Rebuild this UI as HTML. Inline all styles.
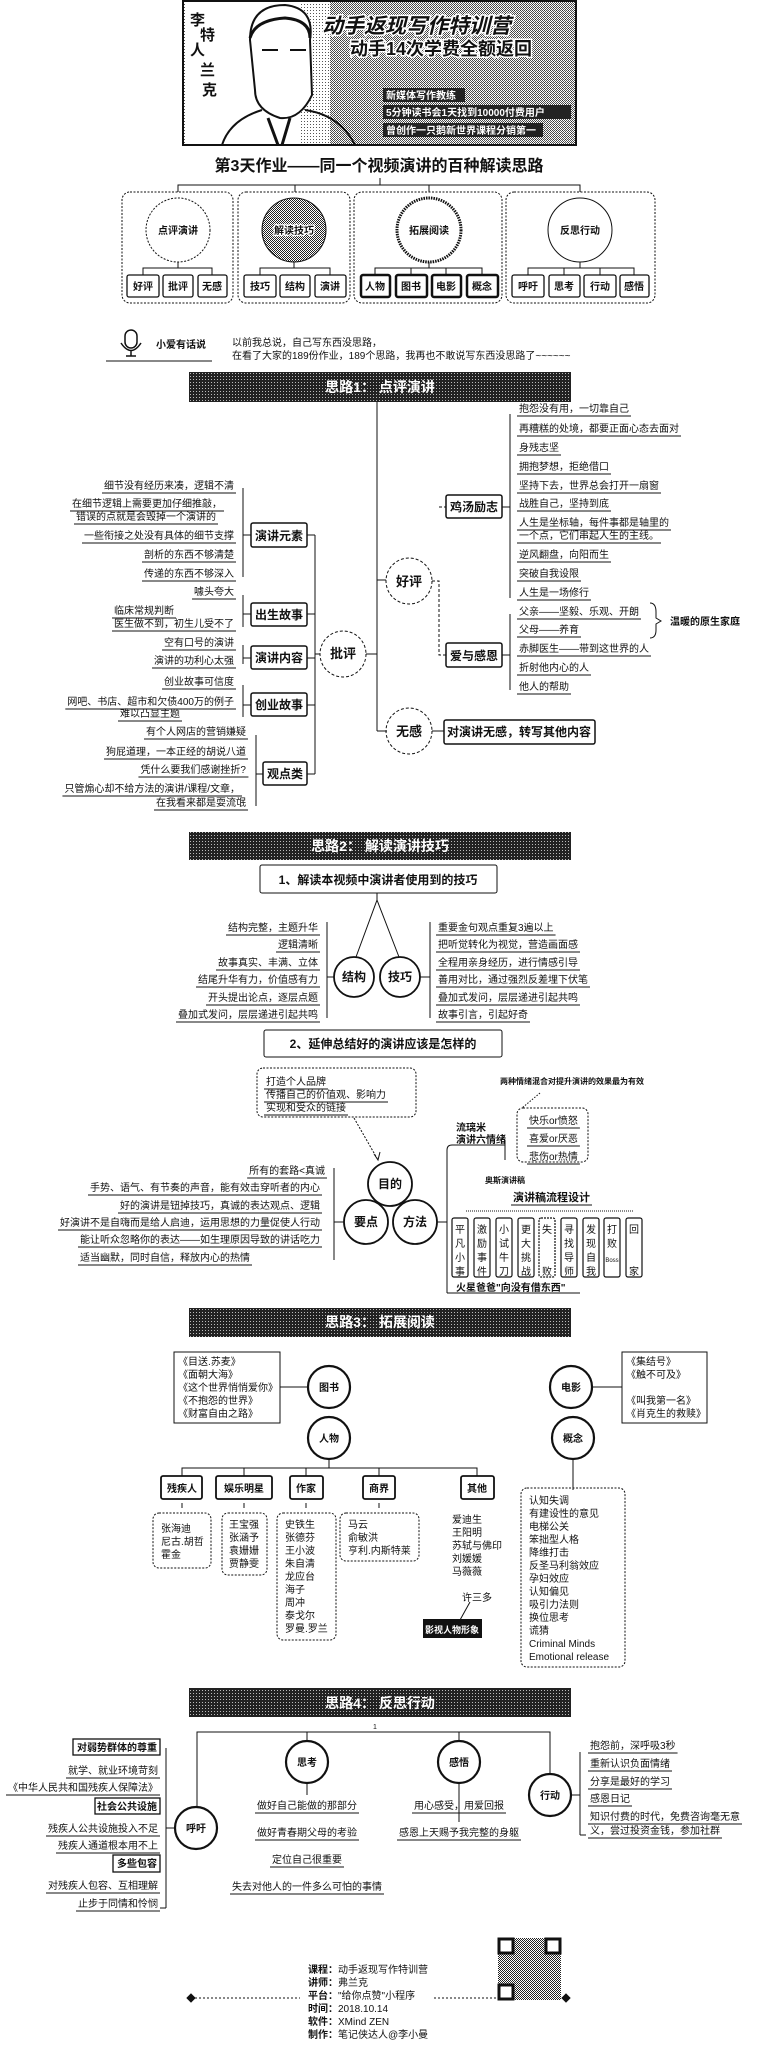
<!DOCTYPE html>
<html><head><meta charset="utf-8">
<style>
html,body{margin:0;padding:0;background:#fff;}
svg{display:block;font-family:"Liberation Sans","Noto Sans CJK SC",sans-serif;}
text{font-size:10px;fill:#111;}
.b{font-weight:bold;}
.m{text-anchor:middle;}
.e{text-anchor:end;}
.w{fill:#fff;font-weight:bold;}
</style></head><body>
<svg id="s" width="762" height="2054" viewBox="0 0 762 2054" xmlns="http://www.w3.org/2000/svg">
<defs>
<pattern id="dots" width="3" height="3" patternUnits="userSpaceOnUse"><rect width="3" height="3" fill="#222"/><rect x="1" y="1" width="1" height="1" fill="#bbb"/></pattern>
<pattern id="lt" width="3" height="3" patternUnits="userSpaceOnUse"><rect width="3" height="3" fill="#fff"/><rect x="1" y="1" width="1" height="1" fill="#555"/></pattern>
<pattern id="md" width="2" height="2" patternUnits="userSpaceOnUse"><rect width="2" height="2" fill="#fff"/><rect width="1" height="1" fill="#222"/><rect x="1" y="1" width="1" height="1" fill="#222"/></pattern>
</defs>
<g fill="none" stroke="#111" stroke-width="1">
<!-- banner -->
<rect x="183" y="1" width="393" height="144" fill="url(#lt)" stroke="#111" stroke-width="2"/>
<rect x="330" y="2" width="245" height="142" fill="url(#md)" stroke="none" opacity="0.8"/>
<rect x="185" y="2" width="115" height="142" fill="#fff" stroke="none"/>
<path d="M250 40 Q250 5 285 5 Q315 8 310 40 L312 95 Q300 120 280 118 Q255 110 255 90 Z" fill="#fff" stroke="#111" stroke-width="2"/>
<path d="M250 38 Q255 20 285 18 Q310 20 310 38" stroke-width="3"/>
<path d="M262 50 h16 M290 50 h16" stroke-width="2"/>
<path d="M262 110 Q230 120 222 145 M305 110 Q340 115 355 145" stroke-width="2"/>
<path d="M268 118 L278 145 M290 118 L282 145" stroke-width="3"/>
</g>
<text x="190" y="25" class="b" style="font-size:15px">李</text><text x="200" y="40" class="b" style="font-size:15px">特</text>
<text x="190" y="55" class="b" style="font-size:15px">人</text><text x="200" y="75" class="b" style="font-size:15px">兰</text><text x="202" y="95" class="b" style="font-size:15px">克</text>
<text x="322" y="33" class="b" style="font-size:21px;font-style:italic;stroke:#fff;stroke-width:3;paint-order:stroke">动手返现写作特训营</text>
<text x="350" y="55" class="b" style="font-size:18px;stroke:#fff;stroke-width:3;paint-order:stroke">动手14次学费全额返回</text>
<rect x="383" y="88" width="82" height="14" fill="#222"/><text x="386" y="99" class="w" style="font-size:10px">新媒体写作教练</text>
<rect x="383" y="105" width="188" height="14" fill="#222"/><text x="386" y="116" class="w" style="font-size:10px">5分钟读书会1天找到10000付费用户</text>
<rect x="383" y="123" width="160" height="14" fill="#222"/><text x="386" y="134" class="w" style="font-size:10px">曾创作一只鹅新世界课程分销第一</text>

<text x="379" y="171" class="b m" style="font-size:16px">第3天作业——同一个视频演讲的百种解读思路</text>

<g fill="none" stroke="#111" stroke-width="1">
<path d="M380 178 V185 M178 192 V185 H580 V192 M295 185 V192 M429 185 V192"/>
<g stroke-dasharray="2,1.5">
<rect x="122" y="192" width="111" height="111" rx="8"/>
<rect x="238" y="192" width="112" height="111" rx="8"/>
<rect x="354" y="192" width="148" height="111" rx="8"/>
<rect x="506" y="192" width="149" height="111" rx="8"/>
<circle cx="178" cy="230" r="32"/>
</g>
<circle cx="294" cy="230" r="32" fill="url(#md)"/>
<circle cx="429" cy="230" r="32" stroke-width="3" stroke-dasharray="1.5,1"/>
<circle cx="580" cy="230" r="32"/>
<path d="M178 262 V268 M143 275 V268 H212 V275"/>
<path d="M294 262 V268 M260 275 V268 H330 V275"/>
<path d="M429 262 V268 M375 275 V268 H482 V275 M411 268 V275 M446 268 V275"/>
<path d="M580 262 V268 M528 275 V268 H634 V275 M564 268 V275 M600 268 V275"/>
<g stroke-width="1.3">
<rect x="127" y="275" width="32" height="22" rx="2"/><rect x="163" y="275" width="30" height="22" rx="2"/><rect x="198" y="275" width="29" height="22" rx="2"/>
<rect x="244" y="275" width="32" height="22" rx="2"/><rect x="280" y="275" width="30" height="22" rx="2"/><rect x="315" y="275" width="31" height="22" rx="2"/>
</g>
<g stroke-width="2.5">
<rect x="361" y="275" width="29" height="22" rx="2"/><rect x="396" y="275" width="31" height="22" rx="2"/><rect x="432" y="275" width="29" height="22" rx="2"/><rect x="467" y="275" width="31" height="22" rx="2"/>
</g>
<g stroke-width="1.3">
<rect x="512" y="275" width="32" height="22" rx="2"/><rect x="549" y="275" width="31" height="22" rx="2"/><rect x="584" y="275" width="32" height="22" rx="2"/><rect x="620" y="275" width="29" height="22" rx="2"/>
</g>
</g>
<g class="b" style="font-size:11px">
<text x="178" y="234" class="m b">点评演讲</text><text x="294" y="234" class="m b" style="stroke:#fff;stroke-width:2.5;paint-order:stroke">解读技巧</text>
<text x="429" y="234" class="m b">拓展阅读</text><text x="580" y="234" class="m b">反思行动</text>
<text x="143" y="290" class="m b">好评</text><text x="178" y="290" class="m b">批评</text><text x="212" y="290" class="m b">无感</text>
<text x="260" y="290" class="m b">技巧</text><text x="295" y="290" class="m b">结构</text><text x="330" y="290" class="m b">演讲</text>
<text x="375" y="290" class="m b">人物</text><text x="411" y="290" class="m b">图书</text><text x="446" y="290" class="m b">电影</text><text x="482" y="290" class="m b">概念</text>
<text x="528" y="290" class="m b">呼吁</text><text x="564" y="290" class="m b">思考</text><text x="600" y="290" class="m b">行动</text><text x="634" y="290" class="m b">感悟</text>
</g>

<!-- 小爱 -->
<g fill="none" stroke="#111" stroke-width="1.5">
<rect x="125" y="330" width="12" height="18" rx="6"/><path d="M121 343 Q131 358 141 343 M131 351 V356 M126 356 H136"/><path d="M106 361 H212" stroke-width="1"/>
</g>
<text x="156" y="348" class="b" style="font-size:10px">小爱有话说</text>
<text x="232" y="346">以前我总说，自己写东西没思路，</text>
<text x="232" y="359">在看了大家的189份作业，189个思路，我再也不敢说写东西没思路了~~~~~~</text>

<!-- headers -->
<rect x="189" y="372" width="382" height="30" fill="url(#dots)"/><text x="380" y="392" class="w m" style="font-size:14px">思路1：  点评演讲</text>
<rect x="189" y="832" width="382" height="28" fill="url(#dots)"/><text x="380" y="851" class="w m" style="font-size:14px">思路2：  解读演讲技巧</text>
<rect x="189" y="1308" width="382" height="29" fill="url(#dots)"/><text x="380" y="1327" class="w m" style="font-size:14px">思路3：  拓展阅读</text>
<rect x="189" y="1688" width="382" height="29" fill="url(#dots)"/><text x="380" y="1708" class="w m" style="font-size:14px">思路4：  反思行动</text>

<!-- section 1 -->
<g fill="none" stroke="#111" stroke-width="1">
<path d="M377 402 V731 M377 580 H386 M377 731 H387 M366 654 H377"/>
<g stroke-dasharray="3,2"><circle cx="343" cy="654" r="23"/><circle cx="409" cy="581" r="23"/><circle cx="409" cy="731" r="23"/>
<path d="M432 581 H439 V655 H446 M439 507 H446"/></g>
<path d="M432 731 H444"/>
<g stroke-width="1.5"><rect x="446" y="495" width="56" height="23" rx="2"/><rect x="446" y="643" width="56" height="24" rx="2"/><rect x="444" y="720" width="151" height="24" rx="2"/>
<rect x="251" y="523" width="56" height="24" rx="2"/><rect x="251" y="603" width="56" height="23" rx="2"/><rect x="251" y="646" width="56" height="23" rx="2"/><rect x="251" y="693" width="56" height="23" rx="2"/><rect x="263" y="762" width="44" height="23" rx="2"/></g>
<path d="M502 507 H510 M510 414 V598 M502 655 H510 M510 614 V690"/>
<path d="M320 654 H315 M315 535 V774 M307 535 H315 M307 614 H315 M307 658 H315 M307 705 H315 M307 774 H315"/>
<path d="M243 488 V577 M251 535 H243 M243 595 V627 M251 614 H243 M243 645 V664 M251 658 H243 M243 685 V717 M251 705 H243 M256 735 V806 M263 774 H256"/>
<path d="M650 603 Q656 603 656 612 V618 L661 621 L656 624 V630 Q656 638 650 638"/>
</g>
<text x="343" y="658" class="m b" style="font-size:13px">批评</text>
<text x="409" y="586" class="m b" style="font-size:13px">好评</text>
<text x="409" y="736" class="m b" style="font-size:13px">无感</text>
<text x="474" y="511" class="m b" style="font-size:12px">鸡汤励志</text>
<text x="474" y="660" class="m b" style="font-size:12px">爱与感恩</text>
<text x="519" y="736" class="m b" style="font-size:12px">对演讲无感，转写其他内容</text>
<text x="279" y="540" class="m b" style="font-size:12px">演讲元素</text>
<text x="279" y="619" class="m b" style="font-size:12px">出生故事</text>
<text x="279" y="662" class="m b" style="font-size:12px">演讲内容</text>
<text x="279" y="709" class="m b" style="font-size:12px">创业故事</text>
<text x="285" y="778" class="m b" style="font-size:12px">观点类</text>
<text x="670" y="625" class="b" style="font-size:10px">温暖的原生家庭</text>
<g class="ul">
<text x="519" y="412">抱怨没有用，一切靠自己</text>
<text x="519" y="432">再糟糕的处境，都要正面心态去面对</text>
<text x="519" y="451">身残志坚</text>
<text x="519" y="470">拥抱梦想，拒绝借口</text>
<text x="519" y="489">坚持下去，世界总会打开一扇窗</text>
<text x="519" y="507">战胜自己，坚持到底</text>
<text x="519" y="526">人生是坐标轴，每件事都是轴里的</text>
<text x="519" y="539">一个点，它们串起人生的主线。</text>
<text x="519" y="558">逆风翻盘，向阳而生</text>
<text x="519" y="577">突破自我设限</text>
<text x="519" y="596">人生是一场修行</text>
<text x="519" y="615">父亲——坚毅、乐观、开朗</text>
<text x="519" y="633">父母——养育</text>
<text x="519" y="652">赤脚医生——带到这世界的人</text>
<text x="519" y="671">折射他内心的人</text>
<text x="519" y="690">他人的帮助</text>
<text x="234" y="489" class="e">细节没有经历来凑，逻辑不清</text>
<text x="222" y="507" class="e">在细节逻辑上需要更加仔细推敲，</text>
<text x="216" y="520" class="e">错误的点就是会毁掉一个演讲的</text>
<text x="234" y="539" class="e">一些衔接之处没有具体的细节支撑</text>
<text x="234" y="558" class="e">剖析的东西不够清楚</text>
<text x="234" y="577" class="e">传递的东西不够深入</text>
<text x="234" y="595" class="e">噱头夸大</text>
<text x="114" y="614">临床常规判断</text>
<text x="234" y="627" class="e">医生做不到，初生儿受不了</text>
<text x="234" y="646" class="e">空有口号的演讲</text>
<text x="234" y="664" class="e">演讲的功利心太强</text>
<text x="234" y="685" class="e">创业故事可信度</text>
<text x="234" y="705" class="e">网吧、书店、超市和欠债400万的例子</text>
<text x="180" y="717" class="e">难以凸显主题</text>
<text x="246" y="735" class="e">有个人网店的营销嫌疑</text>
<text x="246" y="755" class="e">狗屁道理，一本正经的胡说八道</text>
<text x="246" y="773" class="e">凭什么要我们感谢挫折?</text>
<text x="240" y="792" class="e">只管煽心却不给方法的演讲/课程/文章，</text>
<text x="246" y="806" class="e">在我看来都是耍流氓</text>
</g>

<!-- section 2 -->
<g fill="none" stroke="#111" stroke-width="1">
<rect x="260" y="865" width="237" height="28" rx="2"/>
<rect x="264" y="1030" width="238" height="27" rx="2"/>
<path d="M377 893 V900 L356 957 M377 900 L399 957"/>
<g stroke-width="1.8"><circle cx="354" cy="977" r="20"/><circle cx="400" cy="977" r="20"/>
<circle cx="390" cy="1184" r="22"/><circle cx="366" cy="1222" r="22"/><circle cx="415" cy="1222" r="22"/></g>
<path d="M334 977 H327 M327 922 V1018 M420 977 H430 M430 922 V1018"/>
<rect x="257" y="1068" width="159" height="49" rx="6" stroke-dasharray="2,1.5"/>
<path d="M354 1118 L378 1160" stroke-dasharray="2,1.5"/><path d="M374 1154 L378 1160 L380 1152"/>
<path d="M344 1222 H334 M334 1168 V1260 M437 1222 H447 M447 1293 V1150 Q447 1145 452 1145 H505"/>
<path d="M505 1140 V1160"/>
<rect x="517" y="1108" width="71" height="54" rx="6" stroke-dasharray="2,1.5"/>
<path d="M540 1093 L522 1108" stroke-dasharray="1.5,1.5"/>
<path d="M466 1211 H634" stroke-dasharray="1,1"/>
<path d="M447 1293 H580"/>
</g>
<g fill="none" stroke="#111" stroke-width="1.2">
<rect x="452" y="1218" width="16" height="59" rx="2"/><rect x="474" y="1218" width="16" height="59" rx="2"/><rect x="496" y="1218" width="16" height="59" rx="2"/>
<rect x="518" y="1218" width="16" height="59" rx="2"/><rect x="539" y="1218" width="16" height="59" rx="2" stroke-dasharray="2,1"/><rect x="561" y="1218" width="16" height="59" rx="2"/>
<rect x="583" y="1218" width="16" height="59" rx="2"/><rect x="604" y="1218" width="16" height="59" rx="2"/><rect x="626" y="1218" width="16" height="59" rx="2"/>
</g>
<text x="378" y="884" class="m b" style="font-size:12px">1、解读本视频中演讲者使用到的技巧</text>
<text x="383" y="1048" class="m b" style="font-size:12px">2、延伸总结好的演讲应该是怎样的</text>
<text x="354" y="981" class="m b" style="font-size:12px">结构</text><text x="400" y="981" class="m b" style="font-size:12px">技巧</text>
<text x="390" y="1188" class="m b" style="font-size:12px">目的</text><text x="366" y="1226" class="m b" style="font-size:12px">要点</text><text x="415" y="1226" class="m b" style="font-size:12px">方法</text>
<g class="ul">
<text x="318" y="931" class="e">结构完整，主题升华</text>
<text x="318" y="948" class="e">逻辑清晰</text>
<text x="318" y="966" class="e">故事真实、丰满、立体</text>
<text x="318" y="983" class="e">结尾升华有力，价值感有力</text>
<text x="318" y="1001" class="e">开头提出论点，逐层点题</text>
<text x="318" y="1018" class="e">叠加式发问，层层递进引起共鸣</text>
<text x="438" y="931">重要金句观点重复3遍以上</text>
<text x="438" y="948">把听觉转化为视觉，营造画面感</text>
<text x="438" y="966">全程用亲身经历，进行情感引导</text>
<text x="438" y="983">善用对比，通过强烈反差埋下伏笔</text>
<text x="438" y="1001">叠加式发问，层层递进引起共鸣</text>
<text x="438" y="1018">故事引言，引起好奇</text>
<text x="266" y="1085">打造个人品牌</text>
<text x="266" y="1098">传播自己的价值观、影响力</text>
<text x="266" y="1111">实现和受众的链接</text>
<text x="325" y="1174" class="e">所有的套路&lt;真诚</text>
<text x="320" y="1191" class="e">手势、语气、有节奏的声音，能有效击穿听者的内心</text>
<text x="320" y="1209" class="e">好的演讲是钮掉技巧，真诚的表达观点、逻辑</text>
<text x="320" y="1226" class="e">好演讲不是自嗨而是给人启迪，运用思想的力量促使人行动</text>
<text x="320" y="1243" class="e">能让听众忽略你的表达——如生理原因导致的讲话吃力</text>
<text x="80" y="1261">适当幽默，同时自信，释放内心的热情</text>
<text x="529" y="1124">快乐or愤怒</text>
<text x="529" y="1142">喜爱or厌恶</text>
<text x="529" y="1160">悲伤or热情</text>
<text x="513" y="1201" class="b" style="font-size:11px">演讲稿流程设计</text>
</g>
<text x="456" y="1131" class="b">流璃米</text><text x="456" y="1143" class="b">演讲六情绪</text>
<text x="500" y="1084" class="b" style="font-size:8px">两种情绪混合对提升演讲的效果最为有效</text>
<text x="485" y="1183" class="b" style="font-size:8px">奥斯演讲稿</text>
<g style="font-size:10px">
<text x="460" y="1233" class="m">平</text><text x="460" y="1247" class="m">凡</text><text x="460" y="1261" class="m">小</text><text x="460" y="1275" class="m">事</text>
<text x="482" y="1233" class="m">激</text><text x="482" y="1247" class="m">励</text><text x="482" y="1261" class="m">事</text><text x="482" y="1275" class="m">件</text>
<text x="504" y="1233" class="m">小</text><text x="504" y="1247" class="m">试</text><text x="504" y="1261" class="m">牛</text><text x="504" y="1275" class="m">刀</text>
<text x="526" y="1233" class="m">更</text><text x="526" y="1247" class="m">大</text><text x="526" y="1261" class="m">挑</text><text x="526" y="1275" class="m">战</text>
<text x="547" y="1233" class="m">失</text><text x="547" y="1275" class="m">败</text>
<text x="569" y="1233" class="m">寻</text><text x="569" y="1247" class="m">找</text><text x="569" y="1261" class="m">导</text><text x="569" y="1275" class="m">师</text>
<text x="591" y="1233" class="m">发</text><text x="591" y="1247" class="m">现</text><text x="591" y="1261" class="m">自</text><text x="591" y="1275" class="m">我</text>
<text x="612" y="1233" class="m">打</text><text x="612" y="1247" class="m">败</text><text x="612" y="1262" class="m" style="font-size:6px">Boss</text>
<text x="634" y="1233" class="m">回</text><text x="634" y="1275" class="m">家</text>
</g>
<text x="456" y="1291" class="b" style="font-size:10px">火星爸爸"向没有借东西"</text>

<!-- section 3 -->
<g fill="none" stroke="#111" stroke-width="1">
<rect x="174" y="1352" width="106" height="71"/><rect x="622" y="1352" width="85" height="71"/>
<path d="M280 1387 H308 M592 1387 H622 M573 1460 V1490"/>
<g stroke-width="2.2"><circle cx="329" cy="1387" r="21"/><circle cx="329" cy="1438" r="21"/><circle cx="571" cy="1387" r="21"/><circle cx="573" cy="1438" r="21"/></g>
<path d="M329 1459 V1468 M182 1476 V1468 H477 V1476 M244 1468 V1476 M306 1468 V1476 M379 1468 V1476"/>
<g stroke-width="1.8"><rect x="161" y="1476" width="41" height="23" rx="2"/><rect x="216" y="1476" width="56" height="23" rx="2"/><rect x="290" y="1476" width="33" height="23" rx="2"/><rect x="363" y="1476" width="32" height="23" rx="2"/><rect x="461" y="1476" width="33" height="23" rx="2"/></g>
<path d="M182 1503 V1508 M244 1503 V1508 M306 1503 V1508 M379 1503 V1508"/>
<g stroke-dasharray="2,1.5"><rect x="153" y="1513" width="58" height="55" rx="6"/><rect x="222" y="1513" width="45" height="62" rx="6"/><rect x="277" y="1513" width="59" height="127" rx="6"/><rect x="340" y="1513" width="79" height="48" rx="6"/><rect x="521" y="1488" width="104" height="179" rx="6"/></g>
<path d="M470 1602 L460 1620"/>
</g>
<rect x="423" y="1619" width="59" height="19" fill="#111"/>
<text x="452" y="1633" class="w m" style="font-size:9px">影视人物形象</text>
<g style="font-size:10px">
<text x="329" y="1391" class="m b">图书</text><text x="329" y="1442" class="m b">人物</text><text x="571" y="1391" class="m b">电影</text><text x="573" y="1442" class="m b">概念</text>
<text x="178" y="1365">《目送.苏麦》</text><text x="178" y="1378">《面朝大海》</text><text x="178" y="1391">《这个世界悄悄爱你》</text><text x="178" y="1404">《不抱怨的世界》</text><text x="178" y="1417">《财富自由之路》</text>
<text x="626" y="1365">《集结号》</text><text x="626" y="1378">《触不可及》</text><text x="626" y="1404">《叫我第一名》</text><text x="626" y="1417">《肖克生的救赎》</text>
</g>
<g class="b" style="font-size:12px"><text x="182" y="1492" class="m b">残疾人</text><text x="244" y="1492" class="m b">娱乐明星</text><text x="306" y="1492" class="m b">作家</text><text x="379" y="1492" class="m b">商界</text><text x="477" y="1492" class="m b">其他</text></g>
<text x="161" y="1532">张海迪</text><text x="161" y="1545">尼古.胡哲</text><text x="161" y="1558">霍金</text>
<text x="229" y="1528">王宝强</text><text x="229" y="1541">张涵予</text><text x="229" y="1554">袁姗姗</text><text x="229" y="1567">贾静雯</text>
<text x="285" y="1528">史铁生</text><text x="285" y="1541">张德芬</text><text x="285" y="1554">王小波</text><text x="285" y="1567">朱自清</text><text x="285" y="1580">龙应台</text><text x="285" y="1593">海子</text><text x="285" y="1606">周冲</text><text x="285" y="1619">泰戈尔</text><text x="285" y="1632">罗曼.罗兰</text>
<text x="348" y="1528">马云</text><text x="348" y="1541">俞敏洪</text><text x="348" y="1554">亨利.内斯特莱</text>
<text x="452" y="1523">爱迪生</text><text x="452" y="1536">王阳明</text><text x="452" y="1549">苏轼与佛印</text><text x="452" y="1562">刘媛媛</text><text x="452" y="1575">马薇薇</text>
<text x="462" y="1601">许三多</text>
<text x="529" y="1504">认知失调</text><text x="529" y="1517">有建设性的意见</text><text x="529" y="1530">电梯公关</text><text x="529" y="1543">笨拙型人格</text><text x="529" y="1556">降维打击</text><text x="529" y="1569">反圣马利翁效应</text><text x="529" y="1582">孕妇效应</text><text x="529" y="1595">认知偏见</text><text x="529" y="1608">吸引力法则</text><text x="529" y="1621">换位思考</text><text x="529" y="1634">谎猜</text><text x="529" y="1647">Criminal Minds</text><text x="529" y="1660">Emotional release</text>

<!-- section 4 -->
<g fill="none" stroke="#111" stroke-width="1">
<path d="M197 1807 V1732 H550 V1774 M307 1732 V1741 M459 1732 V1741"/>
<g stroke-width="2.2"><circle cx="196" cy="1828" r="21"/><circle cx="307" cy="1762" r="21"/><circle cx="459" cy="1762" r="21"/><circle cx="550" cy="1795" r="21"/></g>
<path d="M175 1828 H166 M166 1748 V1908 M160 1908 H166"/>
<g stroke-width="1.3"><rect x="73" y="1739" width="87" height="16"/><rect x="95" y="1798" width="65" height="16"/><rect x="113" y="1855" width="47" height="17"/></g>
<path d="M307 1783 V1795 M459 1783 V1822"/>
<path d="M571 1795 H580 M580 1752 V1835 M580 1835 H586"/>
</g>
<text x="373" y="1729" style="font-size:7px">1</text>
<text x="196" y="1832" class="m b">呼吁</text><text x="307" y="1766" class="m b">思考</text><text x="459" y="1766" class="m b">感悟</text><text x="550" y="1799" class="m b">行动</text>
<text x="157" y="1751" class="e b">对弱势群体的尊重</text>
<text x="157" y="1810" class="e b">社会公共设施</text>
<text x="157" y="1867" class="e b">多些包容</text>
<g class="ul">
<text x="158" y="1774" class="e">就学、就业环境苛刻</text>
<text x="158" y="1791" class="e">《中华人民共和国残疾人保障法》</text>
<text x="158" y="1832" class="e">残疾人公共设施投入不足</text>
<text x="158" y="1849" class="e">残疾人通道根本用不上</text>
<text x="158" y="1889" class="e">对残疾人包容、互相理解</text>
<text x="158" y="1907" class="e">止步于同情和怜悯</text>
<text x="307" y="1809" class="m">做好自己能做的那部分</text>
<text x="307" y="1836" class="m">做好青春期父母的考验</text>
<text x="307" y="1863" class="m">定位自己很重要</text>
<text x="307" y="1890" class="m">失去对他人的一件多么可怕的事情</text>
<text x="459" y="1809" class="m">用心感受，用爱回报</text>
<text x="459" y="1836" class="m">感恩上天赐予我完整的身躯</text>
<text x="590" y="1749">抱怨前，深呼吸3秒</text>
<text x="590" y="1767">重新认识负面情绪</text>
<text x="590" y="1785">分享是最好的学习</text>
<text x="590" y="1802">感恩日记</text>
<text x="590" y="1820">知识付费的时代，免费咨询毫无意</text>
<text x="590" y="1834">义，尝过投资金钱，参加社群</text>
</g>

<!-- footer -->
<g fill="none" stroke="#111" stroke-width="1">
<path d="M191 1998 H300 M434 1998 H566" stroke-dasharray="2,2"/>
<path d="M191 1994 L195 1998 L191 2002 L187 1998 Z M566 1994 L570 1998 L566 2002 L562 1998 Z" fill="#111"/>
</g>
<g>
<rect x="498" y="1938" width="63" height="62" fill="url(#md)"/>
<rect x="499" y="1939" width="14" height="14" fill="#fff" stroke="#111" stroke-width="3"/>
<rect x="546" y="1939" width="14" height="14" fill="#fff" stroke="#111" stroke-width="3"/>
<rect x="499" y="1985" width="14" height="14" fill="#fff" stroke="#111" stroke-width="3"/>
</g>
<g style="font-size:10px">
<text x="308" y="1973"><tspan class="b">课程：</tspan>动手返现写作特训营</text>
<text x="308" y="1986"><tspan class="b">讲师：</tspan>弗兰克</text>
<text x="308" y="1999"><tspan class="b">平台：</tspan>"给你点赞"小程序</text>
<text x="308" y="2012"><tspan class="b">时间：</tspan>2018.10.14</text>
<text x="308" y="2025"><tspan class="b">软件：</tspan>XMind ZEN</text>
<text x="308" y="2038"><tspan class="b">制作：</tspan>笔记侠达人@李小曼</text>
</g>
</svg>
<script>
(function(){
var s=document.getElementById('s');var ns='http://www.w3.org/2000/svg';
var t=s.querySelectorAll('.ul text');
for(var i=0;i<t.length;i++){try{var b=t[i].getBBox();var l=document.createElementNS(ns,'line');
l.setAttribute('x1',b.x-2);l.setAttribute('x2',b.x+b.width+2);l.setAttribute('y1',b.y+b.height+1);l.setAttribute('y2',b.y+b.height+1);
l.setAttribute('stroke','#111');l.setAttribute('stroke-width','1');s.appendChild(l);}catch(e){}}
})();
</script>
</body></html>
